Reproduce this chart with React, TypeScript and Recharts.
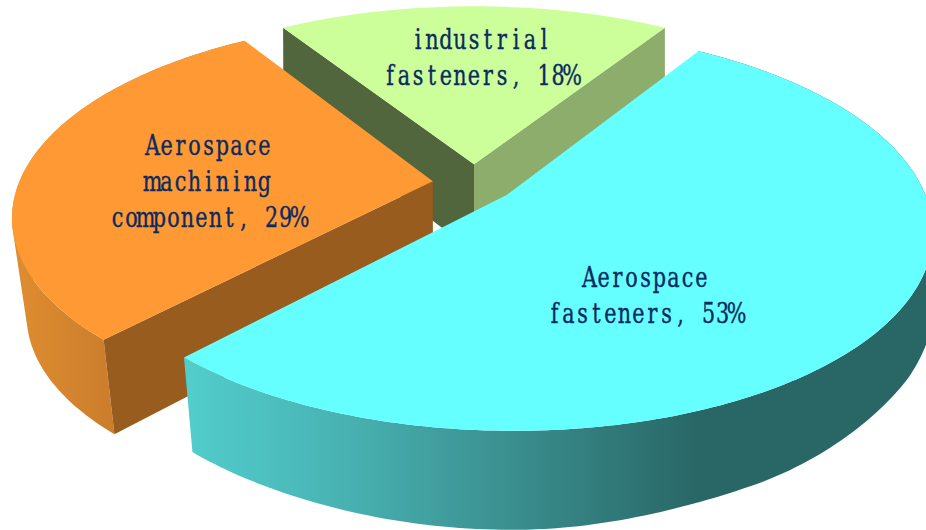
import React from "react";
import { PieChart, Pie } from "recharts";

// Slices, listed back to front so the nearer wedges paint over the farther ones.
const categoryLines = [
  ["industrial", "fasteners"],
  ["Aerospace", "machining", "component"],
  ["Aerospace", "fasteners"],
];
const shares = [18, 29, 53];
const topColors = ["#ccff99", "#ff9933", "#66ffff"];

const pieData = shares.map((value, i) => ({
  name: categoryLines[i].join(" "),
  value,
  fill: topColors[i],
}));

// Projection of the pie plane onto the drawing surface.
const SCALE_X = 414;
const SCALE_Y = 191;
const PERSPECTIVE = 0.1716;
const EXPLODE = 0.1;
const APEX_DEPTH = 88;

// Label type: a serif squeezed horizontally and set on a fixed pitch.
const CHAR_PITCH = 14;
const LINE_GAP = 36;
const FONT_SIZE = 28;
const GLYPH_SQUEEZE = 0.74;
const glyphWidths: Record<string, number> = {
  a: 0.596, b: 0.64, c: 0.56, d: 0.64, e: 0.592, f: 0.37, g: 0.64, h: 0.644, i: 0.32,
  l: 0.32, m: 0.948, n: 0.644, o: 0.602, p: 0.64, r: 0.478, s: 0.513, t: 0.402, u: 0.644,
  A: 0.722, ",": 0.318, " ": 0.318, "%": 0.95,
};

// Wall height around the rim, keyed by angle in degrees.
const rimDepthKeys: [number, number][] = [
  [0, 74], [30, 76], [57.6, 78], [90, 78], [122.4, 79], [150, 88], [180, 96],
  [226.8, 94.5], [270, 99], [300, 92], [340, 76], [360, 74],
];

const wallStyles = [
  { rim: null, startWall: "#8cad6b", endWall: "#52663d" },
  { rim: "orangeRim", startWall: null, endWall: "#995c1f" },
  { rim: "cyanRim", startWall: null, endWall: null },
];

const labelAnchors = [
  { x: 481, y: 49 },
  { x: 208.5, y: 155 },
  { x: 645.5, y: 287 },
];

const rad = (d: number) => (d * Math.PI) / 180;

function rimDepth(angle: number) {
  const a = ((angle % 360) + 360) % 360;
  for (let i = 1; i < rimDepthKeys.length; i++) {
    const [a0, d0] = rimDepthKeys[i - 1];
    const [a1, d1] = rimDepthKeys[i];
    if (a <= a1) {
      const t = (a - a0) / (a1 - a0);
      const s = (1 - Math.cos(Math.PI * t)) / 2;
      return d0 + (d1 - d0) * s;
    }
  }
  return rimDepthKeys[0][1];
}

type Pt = [number, number];

function project(cx: number, cy: number, u: number, v: number): Pt {
  const w = 1 + PERSPECTIVE * v;
  return [cx + (SCALE_X * u) / w, cy - (SCALE_Y * v) / w];
}

function lower(cx: number, p: Pt, depth: number): Pt {
  // Walls lean slightly towards the centre as they get taller.
  const lean = (Math.max(depth - 78, 0) / 17) * 0.03;
  return [p[0] - (p[0] - cx) * lean, p[1] + depth];
}

function toPath(points: Pt[]) {
  return "M" + points.map((p) => `${p[0].toFixed(2)},${p[1].toFixed(2)}`).join("L") + "Z";
}

function signedArea(points: Pt[]) {
  let s = 0;
  points.forEach((p, i) => {
    const q = points[(i + 1) % points.length];
    s += p[0] * q[1] - q[0] * p[1];
  });
  return s;
}

function ExplodedSlice(props: any) {
  const { cx, cy, startAngle, endAngle, fill, index } = props;
  const style = wallStyles[index];
  const mid = (startAngle + endAngle) / 2;
  const ox = EXPLODE * Math.cos(rad(mid));
  const oy = EXPLODE * Math.sin(rad(mid));
  const rimPoint = (a: number) => project(cx, cy, ox + Math.cos(rad(a)), oy + Math.sin(rad(a)));
  const apex = project(cx, cy, ox, oy);
  const apexLow: Pt = [apex[0], apex[1] + APEX_DEPTH];

  const angles: number[] = [];
  const steps = Math.ceil(endAngle - startAngle);
  for (let i = 0; i <= steps; i++) angles.push(startAngle + ((endAngle - startAngle) * i) / steps);

  // Rim wall as a union of consistently wound quads, so the silhouette stays solid.
  let rimPath = "";
  if (style.rim) {
    for (let i = 0; i < angles.length - 1; i++) {
      const a = rimPoint(angles[i]);
      const b = rimPoint(angles[i + 1]);
      const c = lower(cx, b, rimDepth(angles[i + 1]));
      const d = lower(cx, a, rimDepth(angles[i]));
      const quad: Pt[] = [a, b, c, d];
      rimPath += toPath(signedArea(quad) < 0 ? quad.reverse() : quad);
    }
  }

  const edgeWall = (a: number) => {
    const p = rimPoint(a);
    return toPath([apex, p, lower(cx, p, rimDepth(a)), apexLow]);
  };

  return (
    <g>
      <defs>
        <linearGradient id="orangeRim" gradientUnits="userSpaceOnUse" x1={12} x2={115} y1={0} y2={0}>
          <stop offset="0" stopColor="#df8d31" />
          <stop offset="1" stopColor="#cb7d2b" />
        </linearGradient>
        <linearGradient id="cyanRim" gradientUnits="userSpaceOnUse" x1={190} x2={700} y1={0} y2={0}>
          <stop offset="0" stopColor="#52cccc" />
          <stop offset="0.25" stopColor="#4ab7b7" />
          <stop offset="0.6" stopColor="#3c9292" />
          <stop offset="1" stopColor="#296666" />
        </linearGradient>
      </defs>
      {style.rim && <path d={rimPath} fill={`url(#${style.rim})`} fillRule="nonzero" />}
      {style.startWall && <path d={edgeWall(startAngle)} fill={style.startWall} />}
      {style.endWall && <path d={edgeWall(endAngle)} fill={style.endWall} />}
      <path d={toPath([apex, ...angles.map(rimPoint)])} fill={fill} />
    </g>
  );
}

// Places each character centred in its own fixed-pitch cell.
function pitchPositions(line: string) {
  const total = line.length * CHAR_PITCH;
  return Array.from(line)
    .map((ch, i) => {
      const em = glyphWidths[ch] ?? 0.636;
      const cellCentre = (i + 0.5) * CHAR_PITCH - total / 2;
      return (cellCentre / GLYPH_SQUEEZE - (em * FONT_SIZE) / 2).toFixed(2);
    })
    .join(" ");
}

function SliceLabel(props: any) {
  const { index } = props;
  const anchor = labelAnchors[index];
  const lines = [...categoryLines[index]];
  lines[lines.length - 1] += `, ${shares[index]}%`;
  return (
    <g>
      {lines.map((line, i) => (
        <text
          key={i}
          transform={`translate(${anchor.x} ${anchor.y + i * LINE_GAP}) scale(${GLYPH_SQUEEZE} 1)`}
          x={pitchPositions(line)}
          y={0}
          fontFamily='"DejaVu Serif", serif'
          fontSize={FONT_SIZE}
          fill="#0b2a62"
          stroke="#0b2a62"
          strokeWidth={0.4}
          style={{ whiteSpace: "pre" }}
        >
          {line}
        </text>
      ))}
    </g>
  );
}

export default function App() {
  return (
    <div style={{ position: "absolute", left: 0, top: 0, width: 926, height: 530, overflow: "hidden", background: "#fff" }}>
      <PieChart width={926} height={530} margin={{ top: 0, right: 0, bottom: 0, left: 0 }}>
        <Pie
          data={pieData}
          dataKey="value"
          nameKey="name"
          cx={474}
          cy={183}
          outerRadius={180}
          startAngle={57.6}
          endAngle={417.6}
          stroke="none"
          isAnimationActive={false}
          shape={ExplodedSlice}
          activeShape={ExplodedSlice}
          inactiveShape={ExplodedSlice}
          label={SliceLabel}
          labelLine={false}
        />
      </PieChart>
    </div>
  );
}
